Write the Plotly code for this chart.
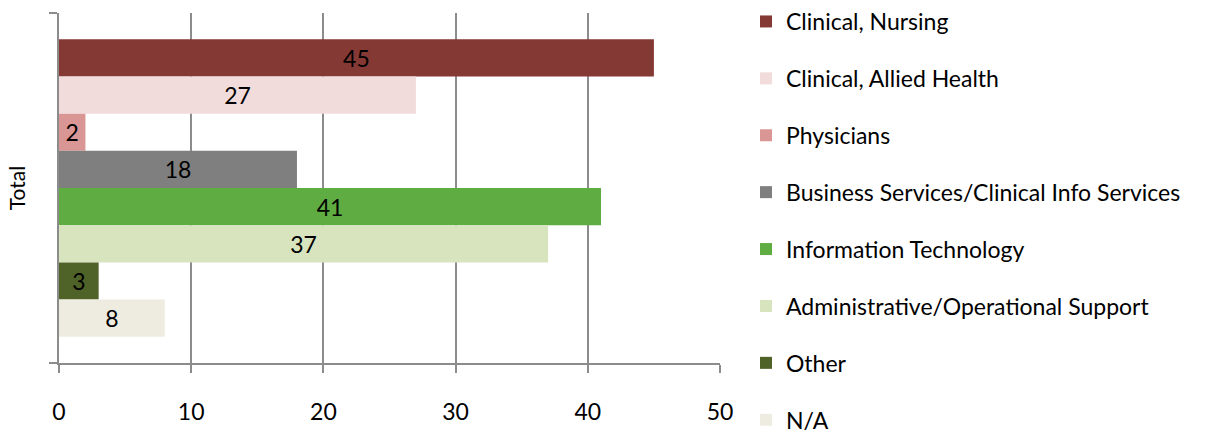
import plotly.graph_objects as go

# Staff counts by role, single "Total" category
category = ["Total"]
roles = [
    "Clinical, Nursing",
    "Clinical, Allied Health",
    "Physicians",
    "Business Services/Clinical Info Services",
    "Information Technology",
    "Administrative/Operational Support",
    "Other",
    "N/A",
]
counts = [45, 27, 2, 18, 41, 37, 3, 8]
colors = ["#843935", "#F2DCDB", "#DA9694", "#7F7F7F",
          "#5FAC42", "#D7E4BD", "#4F6228", "#EEECE1"]

FONT = "Lato, Calibri, sans-serif"
GRID = "#8C8C8C"

fig = go.Figure()
for i, (role, val, col) in enumerate(zip(roles, counts, colors)):
    fig.add_trace(go.Bar(
        y=category, x=[val], name=role, orientation="h",
        marker=dict(color=col, line=dict(width=0)),
        text=[str(val)], textposition="inside", insidetextanchor="middle",
        textfont=dict(family=FONT, size=23, color="#000000"),
        constraintext="none", cliponaxis=False,
        legendgroup=f"g{i}",
    ))

fig.update_layout(
    width=1211, height=433,
    margin=dict(l=59, r=491, t=13, b=70, autoexpand=False),
    paper_bgcolor="white", plot_bgcolor="white",
    barmode="group", bargap=0.15, bargroupgap=0,
    font=dict(family=FONT, size=23, color="#000000"),
    showlegend=True,
    legend=dict(
        xref="container", yref="container",
        x=746 / 1211, xanchor="left",
        y=1.0, yanchor="top",
        tracegroupgap=24, itemwidth=30,
        maxheight=700,
        font=dict(family=FONT, size=23, color="#000000"),
        bgcolor="rgba(0,0,0,0)",
    ),
    xaxis=dict(
        range=[0, 50], dtick=10, tick0=0,
        showgrid=True, gridcolor=GRID, gridwidth=1.5,
        zeroline=False, automargin=False,
        showline=True, linecolor=GRID, linewidth=1.5,
        ticks="outside", ticklen=8, tickcolor=GRID, tickwidth=1.5,
        ticklabelstandoff=20,
        tickfont=dict(family=FONT, size=23, color="#000000"),
    ),
    yaxis=dict(
        autorange="reversed", automargin=False,
        showline=True, linecolor=GRID, linewidth=1.5,
        ticks="outside", ticklen=8, tickcolor=GRID, tickwidth=1.5,
        tickson="boundaries",
        showticklabels=False, showgrid=False,
        title=dict(text="Total", standoff=26,
                   font=dict(family=FONT, size=21, color="#000000")),
    ),
)

fig.write_html("out.html")
